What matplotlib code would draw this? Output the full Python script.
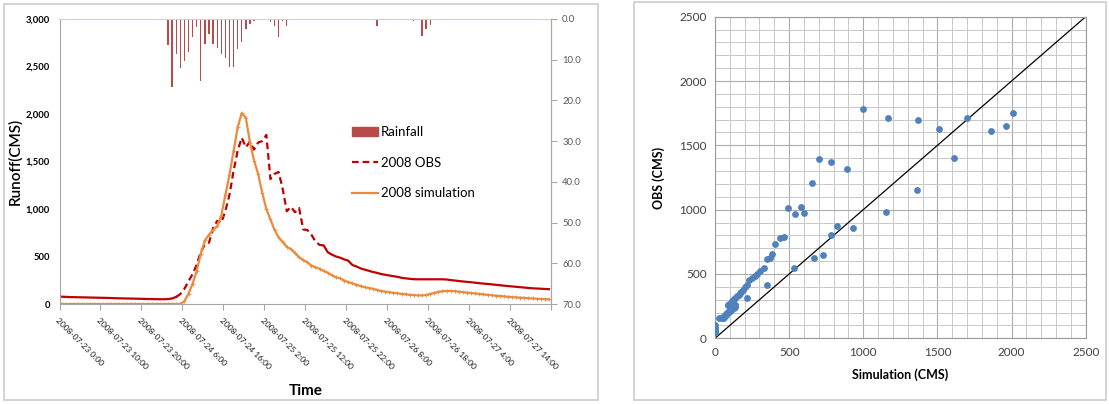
import matplotlib
matplotlib.use("Agg")
import matplotlib.pyplot as plt
import matplotlib.ticker as mticker
from matplotlib.patches import Rectangle, Patch
from matplotlib.lines import Line2D
import numpy as np

plt.rcParams['font.family'] = ['Lato', 'DejaVu Sans']

# hourly series, 2008-07-23 0:00 .. 2008-07-27 23:00 (120 hours)
time_labels = ['2008-07-23 0:00', '2008-07-23 10:00', '2008-07-23 20:00',
               '2008-07-24 6:00', '2008-07-24 16:00', '2008-07-25 2:00',
               '2008-07-25 12:00', '2008-07-25 22:00', '2008-07-26 8:00',
               '2008-07-26 18:00', '2008-07-27 4:00', '2008-07-27 14:00']

obs = [77, 75, 73, 72, 71, 70, 69, 68, 67, 66,
       65, 64, 63, 61, 60, 59, 58, 57, 56, 55,
       54, 53, 52, 51, 50, 50, 52, 58, 75, 105,
       160, 240, 316, 414, 550, 625, 645, 800, 875, 855,
       980, 1150, 1400, 1615, 1750, 1650, 1710, 1625, 1700, 1715,
       1780, 1315, 1370, 1390, 1209, 976, 1023, 966, 1010, 785,
       779, 730, 657, 622, 616, 545, 520, 500, 488, 470,
       456, 411, 395, 375, 362, 350, 337, 328, 316, 308,
       300, 293, 286, 276, 270, 265, 261, 260, 260, 260,
       260, 260, 260, 260, 258, 252, 247, 242, 237, 233,
       229, 224, 219, 215, 211, 207, 202, 198, 193, 189,
       185, 181, 177, 173, 169, 165, 163, 161, 158, 156]

sim = [0, 0, 0, 0, 0, 0, 0, 0, 0, 0,
       0, 0, 0, 0, 0, 0, 0, 0, 0, 0,
       0, 0, 0, 0, 0, 0, 0, 0, 0, 0,
       30, 110, 213, 350, 530, 670, 730, 780, 820, 930,
       1150, 1360, 1610, 1860, 2010, 1960, 1700, 1510, 1370, 1170,
       1000, 890, 780, 700, 652, 602, 578, 539, 490, 465,
       438, 405, 386, 371, 350, 330, 303, 280, 270, 247,
       230, 218, 202, 190, 178, 169, 160, 148, 137, 130,
       124, 118, 112, 107, 102, 97, 93, 91, 90, 94,
       105, 118, 128, 134, 137, 137, 135, 130, 125, 120,
       116, 111, 106, 101, 96, 92, 88, 84, 80, 76,
       72, 70, 67, 64, 61, 58, 55, 53, 51, 49]

# rainfall (mm) at the hours where it is non-zero
rain_hours = [21, 26, 27, 28, 29, 30, 31, 32, 33, 34, 35, 36, 37, 38, 39, 40,
              41, 42, 43, 44, 45, 46, 47, 50, 51, 52, 53, 54, 55, 56, 57, 58,
              74, 77, 79, 85, 86, 87, 88, 89, 90, 91, 92, 102]
rain_mm = [0.2, 6.4, 16.8, 8.7, 12.1, 10.2, 8.1, 4.5, 2.0, 15.2, 6.1, 3.7,
           6.2, 7.0, 8.7, 9.5, 11.9, 11.9, 7.4, 5.6, 2.4, 1.2, 0.4, 0.2,
           0.8, 1.7, 4.3, 0.5, 1.7, 0.3, 0.3, 0.3,
           0.2, 1.7, 0.2, 0.3, 0.6, 0.3, 4.1, 2.5, 1.5, 0.3, 0.2, 0.2]

obs = np.array(obs, dtype=float)
sim = np.array(sim, dtype=float)
rain = np.zeros(len(obs))
rain[rain_hours] = rain_mm
x = np.arange(len(obs)) + 0.5

W, H = 1109, 404
fig = plt.figure(figsize=(W / 100, H / 100), dpi=100)

# ---------- left: hydrograph ----------
ax = fig.add_axes([59.5 / W, 1 - 304 / H, 491.5 / W, 285 / H])
red = '#C00000'
orange = '#EB8A3C'
ax.plot(x[:29], obs[:29], color=red, lw=1.6)
ax.plot(x[28:65], obs[28:65], color=red, lw=1.6, ls=(0, (3, 1.8)))
ax.plot(x[64:], obs[64:], color=red, lw=1.6)
ax.plot(x, sim, color=orange, lw=1.6, marker='+', ms=2.5, mew=0.6)
ax.set_xlim(0, 120)
ax.set_ylim(0, 3000)
ax.set_xticks(range(0, 121, 10))
ax.set_xticklabels(time_labels + [''], rotation=-45, ha='left', va='top',
                   rotation_mode='anchor', fontsize=6, color='#1A1A1A')
ax.set_yticks(range(0, 3001, 500))
ax.yaxis.set_major_formatter(mticker.FuncFormatter(lambda v, p: f'{int(v):,}'))
ax.tick_params(axis='y', length=0, labelsize=6.8, pad=7)
for lbl in ax.get_yticklabels():
    lbl.set_fontweight('bold')
ax.tick_params(axis='x', length=4, color='#A6A6A6', pad=5)
ax.spines['top'].set_visible(False)
for s in ['left', 'bottom', 'right']:
    ax.spines[s].set_color('#A6A6A6')
ax.set_xlabel('Time', fontsize=11, fontweight='bold', labelpad=10)
ax.set_ylabel('Runoff(CMS)', fontsize=11, fontweight='semibold', labelpad=2)

ax2 = ax.twinx()
ax2.bar(x, rain, width=0.32, color='#B94A48')
ax2.set_ylim(70, 0)
ax2.set_yticks(range(0, 71, 10))
ax2.yaxis.set_major_formatter(mticker.FormatStrFormatter('%.1f'))
ax2.tick_params(axis='y', length=4, color='#A6A6A6', labelsize=6.8,
                labelcolor='#595959', pad=4)
ax2.axhline(0, color='#D8D2A8', lw=1.5)
ax2.spines['top'].set_visible(False)
ax2.spines['right'].set_color('#A6A6A6')
ax2.spines['left'].set_visible(False)
ax2.spines['bottom'].set_visible(False)

handles = [Patch(color='#B94A48'),
           Line2D([], [], color=red, lw=1.6, ls=(0, (3, 1.8))),
           Line2D([], [], color=orange, lw=1.6)]
ax2.legend(handles, ['Rainfall', '2008 OBS', '2008 simulation'],
           loc='upper left', bbox_to_anchor=(0.57, 0.665), frameon=False,
           fontsize=9.5, labelspacing=1.4, handlelength=2.0,
           handletextpad=0.2)

# ---------- right: scatter OBS vs simulation ----------
ax3 = fig.add_axes([715 / W, 1 - 338.3 / H, 370.7 / W, 321.6 / H])
ax3.scatter(sim, obs, s=24, color='#4F81BD', linewidths=0, zorder=3)
ax3.plot([0, 2500], [0, 2500], color='black', lw=0.9, zorder=2)
ax3.set_xlim(0, 2500)
ax3.set_ylim(0, 2500)
ax3.set_xticks(range(0, 2501, 500))
ax3.set_yticks(range(0, 2501, 500))
ax3.xaxis.set_minor_locator(mticker.MultipleLocator(100))
ax3.yaxis.set_minor_locator(mticker.MultipleLocator(100))
ax3.grid(which='major', color='#ABABAB', lw=0.8)
ax3.grid(which='minor', color='#C8C8C8', lw=0.7)
ax3.set_axisbelow(True)
ax3.tick_params(which='both', length=0, labelsize=8.5, labelcolor='#404040', pad=6)
for s in ax3.spines.values():
    s.set_color('#9A9A9A')
ax3.set_xlabel('Simulation (CMS)', fontsize=9, fontweight='bold', labelpad=8)
ax3.set_ylabel('OBS (CMS)', fontsize=9, fontweight='bold', labelpad=10)

# chart frames
fig.add_artist(Rectangle((4 / W, 4 / H), 594 / W, 396 / H, transform=fig.transFigure,
                         fill=False, ec='#CCCCCC', lw=1.2))
fig.add_artist(Rectangle((634 / W, 4 / H), 472 / W, 398 / H, transform=fig.transFigure,
                         fill=False, ec='#CCCCCC', lw=1.2))

fig.savefig('out.png', dpi=100)
